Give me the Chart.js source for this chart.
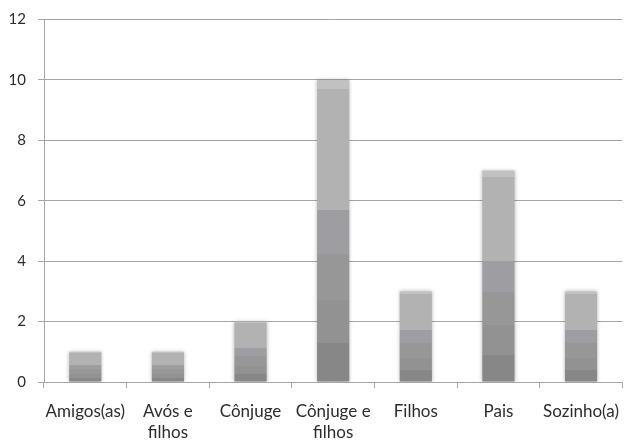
<!DOCTYPE html>
<html>
<head>
<meta charset="utf-8">
<script src="https://cdn.jsdelivr.net/npm/chart.js@4/dist/chart.umd.min.js"></script>
<style>
  html, body { margin: 0; padding: 0; background: #ffffff; overflow: hidden; }
  #wrap { width: 632px; height: 450px; position: relative; }
</style>
</head>
<body>
<div id="wrap"><canvas id="c"></canvas></div>
<script>
// Household arrangement categories and their counts
const categories = [
  ["Amigos(as)"],
  ["Avós e", "filhos"],
  ["Cônjuge"],
  ["Cônjuge e", "filhos"],
  ["Filhos"],
  ["Pais"],
  ["Sozinho(a)"]
];
const counts = [1, 1, 2, 10, 3, 7, 3];
const yTicks = [0, 2, 4, 6, 8, 10, 12];

// Banded gray fill, from bar base (0) to bar top (1)
const bandStops = [0, 0.13, 0.27, 0.425, 0.571, 0.971, 1];
const bandColors = ["#878787", "#929292", "#979797", "#9e9da2", "#b2b2b2", "#c1c1c1"];

function bandedFill(ctx) {
  const chart = ctx.chart;
  const y = chart.scales.y;
  if (!chart.chartArea || !y || ctx.type !== 'data') return bandColors[0];
  const v = ctx.parsed ? ctx.parsed.y : ctx.raw;
  const base = y.getPixelForValue(0);
  const top = y.getPixelForValue(v);
  if (!isFinite(base) || !isFinite(top) || base === top) return bandColors[0];
  const g = chart.ctx.createLinearGradient(0, base, 0, top);
  for (let i = 0; i < bandColors.length; i++) {
    g.addColorStop(bandStops[i], bandColors[i]);
    g.addColorStop(Math.max(bandStops[i], bandStops[i + 1] - 0.0001), bandColors[i]);
  }
  return g;
}

// Soft shadow around each column
const barShadow = {
  id: 'barShadow',
  beforeDatasetsDraw(chart) {
    chart.ctx.save();
    chart.ctx.shadowColor = 'rgba(0,0,0,0.28)';
    chart.ctx.shadowBlur = 4;
    chart.ctx.shadowOffsetX = 0;
    chart.ctx.shadowOffsetY = 0;
  },
  afterDatasetsDraw(chart) {
    chart.ctx.restore();
  }
};

const xFont = { family: "Lato, 'Liberation Sans', sans-serif", size: 17, lineHeight: 1.24 };
const yFont = { family: "Lato, 'Liberation Sans', sans-serif", size: 15, lineHeight: 1.0 };

new Chart(document.getElementById('c'), {
  type: 'bar',
  data: {
    labels: categories,
    datasets: [{
      data: counts,
      backgroundColor: bandedFill,
      borderWidth: 0,
      barPercentage: 0.39,
      categoryPercentage: 1.0
    }]
  },
  options: {
    responsive: true,
    maintainAspectRatio: false,
    animation: false,
    layout: { padding: { left: 0, right: 0, top: -3, bottom: 0 } },
    plugins: { legend: { display: false }, tooltip: { enabled: false } },
    scales: {
      x: {
        afterFit(scale) { scale.height = 68; },
        grid: {
          offset: true,
          drawOnChartArea: false,
          drawTicks: true,
          tickLength: 6,
          color: '#a6a6a6'
        },
        border: { color: '#a6a6a6', width: 1 },
        ticks: {
          color: '#2b2b2b',
          font: xFont,
          padding: 13,
          maxRotation: 0,
          autoSkip: false
        }
      },
      y: {
        min: 0,
        max: 12,
        afterFit(scale) { scale.width = 44; },
        afterBuildTicks(axis) { axis.ticks = yTicks.map(v => ({ value: v })); },
        grid: {
          color: '#a6a6a6',
          tickLength: 6,
          drawTicks: true
        },
        border: { color: '#a6a6a6', width: 1 },
        ticks: {
          color: '#2b2b2b',
          font: yFont,
          padding: 12
        }
      }
    }
  },
  plugins: [barShadow]
});
</script>
</body>
</html>
